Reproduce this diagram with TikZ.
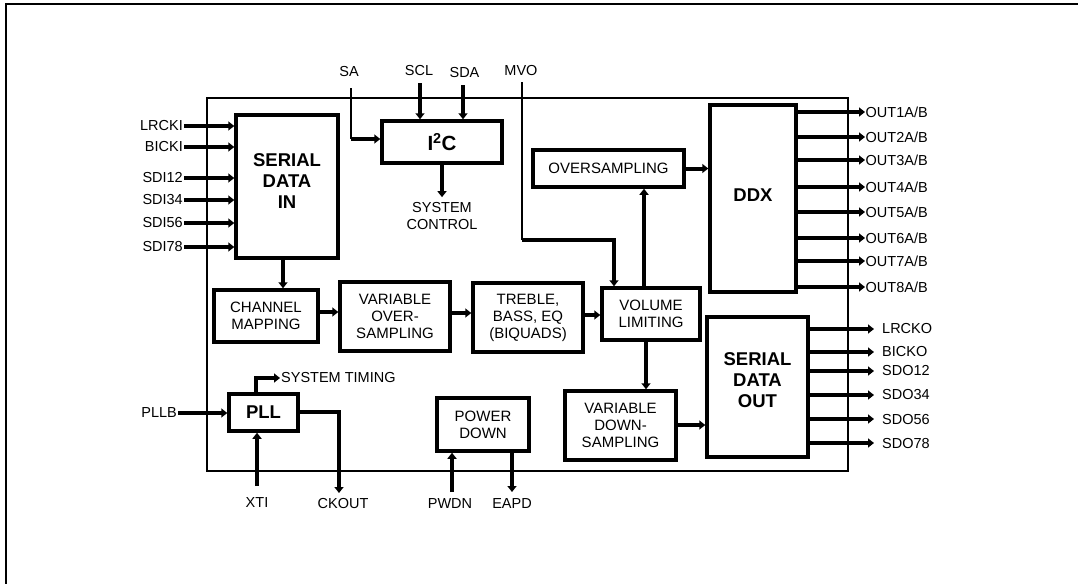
\documentclass[tikz,border=0pt]{standalone}
\usepackage{fontspec}
\setmainfont{Liberation Sans}
\usetikzlibrary{arrows.meta}
\begin{document}
\begin{tikzpicture}[x=1pt,y=-1pt,
  box/.style={draw, line width=3.5pt, inner sep=0pt, align=center, font=\fontsize{15}{17}\selectfont},
  btxt/.style={inner sep=0pt, align=center, font=\fontsize{18.5}{21}\selectfont\bfseries},
  lab/.style={inner sep=1pt, align=center, font=\fontsize{14.5}{17}\selectfont},
  arr/.style={line width=4pt, -{Triangle[length=6pt,width=9pt]}},
  wire/.style={line width=2.5pt}]
\useasboundingbox (0,0) rectangle (1078,584);
\draw[line width=2pt] (1078,4) -- (6,4) -- (6,584);
\node[draw, line width=2pt, inner sep=0pt, minimum width=641pt, minimum height=373pt] (chip) at (527.5,284.5) {};

% blocks
\node[box, minimum width=102pt, minimum height=143pt] (sdi) at (287,186.5) {};
\node[btxt] (sditxt) at ([yshift=5.5pt]sdi.center) {SERIAL\\DATA\\IN};
\node[box, minimum width=120pt, minimum height=42pt, font=\fontsize{20.5}{22}\selectfont\bfseries] (i2c) at (442,142) {I\textsuperscript{2}C};
\node[lab] (sysc) at (442,216) {SYSTEM\\CONTROL};
\node[box, minimum width=151pt, minimum height=37pt] (ovs) at (608.5,168.5) {OVERSAMPLING};
\node[box, minimum width=86pt, minimum height=187pt] (ddx) at (753,198.5) {};
\node[btxt] (ddxtxt) at ([yshift=3.5pt]ddx.center) {DDX};
\node[box, minimum width=98pt, minimum height=52pt] (vol) at (651,314) {VOLUME\\LIMITING};
\node[box, minimum width=110pt, minimum height=69pt] (treble) at (528,317.5) {TREBLE,\\BASS, EQ\\(BIQUADS)};
\node[box, minimum width=110pt, minimum height=69pt] (vos) at (395,316.5) {VARIABLE\\OVER-\\SAMPLING};
\node[box, minimum width=104pt, minimum height=52pt] (cm) at (266,316) {CHANNEL\\MAPPING};
\node[box, minimum width=111pt, minimum height=69pt] (vds) at (620.5,425.5) {VARIABLE\\DOWN-\\SAMPLING};
\node[box, minimum width=101pt, minimum height=140pt] (sdo) at (757.5,387) {};
\node[btxt] (sdotxt) at ([yshift=6.5pt]sdo.center) {SERIAL\\DATA\\OUT};
\node[box, minimum width=69pt, minimum height=37pt, font=\fontsize{18.5}{21}\selectfont\bfseries] (pll) at (263.5,412.5) {PLL};
\node[box, minimum width=92pt, minimum height=53pt] (pd) at (483,424.5) {POWER\\DOWN};

% inputs to serial data in
\foreach \n/\t/\y in {lrcki/LRCKI/126, bicki/BICKI/147, sdia/SDI12/178, sdib/SDI34/200, sdic/SDI56/223, sdid/SDI78/247} {
  \node[lab, anchor=east] (\n) at (184,\y) {\t};
  \draw[arr] (\n.east) -- (sdi.west |- \n.east);
}

% top pins
\node[lab] (sa) at (349,71.5) {SA};
\node[lab] (scl) at (419,71) {SCL};
\node[lab] (sda) at (464.5,73) {SDA};
\node[lab] (mvo) at (521,71) {MVO};
\coordinate (sat) at (351,88);
\coordinate (sac) at (351,139);
\draw[wire] (sat) -- (sac);
\draw[arr] (sac) -- (i2c.west |- sac);
\coordinate (sclt) at (420,83);
\draw[arr] (sclt) -- (i2c.north -| sclt);
\coordinate (sdat) at (463,85);
\draw[arr] (sdat) -- (i2c.north -| sdat);
\draw[arr] (i2c.south) -- ([yshift=4pt]sysc.north);
\coordinate (mvot) at (522,82);
\coordinate (mvoc) at (522,240);
\draw[wire] (mvot) -- (mvoc);
\draw[arr] (mvoc) -| (614,0 |- vol.north);

% main chain
\draw[arr] (283,0 |- sdi.south) -- (283,0 |- cm.north);
\draw[arr] (cm.east |- 0,312) -- (vos.west |- 0,312);
\draw[arr] (vos.east |- 0,313) -- (treble.west |- 0,313);
\draw[arr] (treble.east |- 0,315) -- (vol.west |- 0,315);
\draw[arr] (644,0 |- vol.north) -- (644,0 |- ovs.south);
\draw[arr] (ovs.east) -- (ddx.west |- ovs.east);
\draw[arr] (646,0 |- vol.south) -- (646,0 |- vds.north);
\draw[arr] (vds.east |- 0,425) -- (sdo.west |- 0,425);

% DDX outputs
\foreach \i/\y in {1/112, 2/137, 3/160, 4/187, 5/212, 6/238, 7/261, 8/287} {
  \node[lab, anchor=west, inner sep=0.5pt] (out\i) at (865,\y) {OUT\i A/B};
  \draw[arr] (ddx.east |- out\i.west) -- (out\i.west);
}

% serial data out outputs
\foreach \n/\t/\y in {lrcko/LRCKO/329, bicko/BICKO/352, sdoa/SDO12/371, sdob/SDO34/395, sdoc/SDO56/419, sdod/SDO78/443} {
  \node[lab, anchor=west] (\n) at (881,\y) {\t};
  \draw[arr] (sdo.east |- \n.west) -- ([xshift=-7pt]\n.west);
}

% PLL
\node[lab, anchor=east] (pllb) at (178,413) {PLLB};
\draw[arr] (pllb.east) -- (pll.west |- pllb.east);
\node[lab, anchor=west] (st) at (280,378) {SYSTEM TIMING};
\draw[arr] (256,0 |- pll.north) |- (st.west);
\coordinate (ckb) at (339,493);
\draw[arr] (pll.east |- 0,412) -| (ckb);
\node[lab] (ckout) at (343,503) {CKOUT};
\node[lab] (xti) at (257,503) {XTI};
\coordinate (xtit) at (257,486);
\draw[arr] (xtit) -- (pll.south -| xtit);

% power down
\node[lab] (pwdn) at (450,504) {PWDN};
\node[lab] (eapd) at (512,504) {EAPD};
\coordinate (pwdnt) at (452,492);
\draw[arr] (pwdnt) -- (pd.south -| pwdnt);
\coordinate (eapdb) at (512,492);
\draw[arr] (pd.south -| eapdb) -- (eapdb);
\end{tikzpicture}
\end{document}
